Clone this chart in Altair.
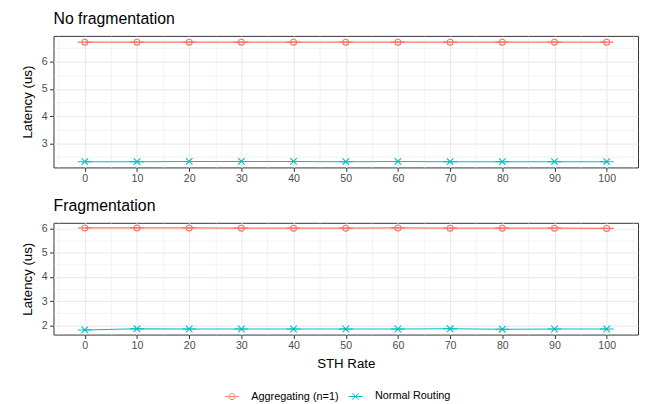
import altair as alt
import pandas as pd

# ---- data ----
rates = [0, 10, 20, 30, 40, 50, 60, 70, 80, 90, 100]
series_names = ["Aggregating (n=1)", "Normal Routing"]

nofrag_agg = [6.72, 6.72, 6.72, 6.72, 6.72, 6.72, 6.72, 6.72, 6.72, 6.72, 6.72]
nofrag_norm = [2.32, 2.32, 2.33, 2.33, 2.33, 2.32, 2.33, 2.32, 2.32, 2.32, 2.32]
frag_agg = [6.02, 6.02, 6.02, 6.01, 6.01, 6.01, 6.02, 6.01, 6.01, 6.01, 6.00]
frag_norm = [1.81, 1.86, 1.85, 1.85, 1.85, 1.85, 1.85, 1.86, 1.84, 1.85, 1.85]

panel_titles = ["No fragmentation", "Fragmentation"]
x_title = "STH Rate"
y_title = "Latency (us)"

FONT = "Liberation Sans"
colors = ["#F8766D", "#00BFC4"]
# marker + legend key line (the short horizontal line overlaps the series line)
shapes = [
    "M-2.35,0L2.35,0M1,0A1,1,0,1,1,-1,0A1,1,0,1,1,1,0",
    "M-2.35,0L2.35,0M-1.1,-1.1L1.1,1.1M-1.1,1.1L1.1,-1.1",
]


def make_df(agg, norm):
    rows = []
    for r, v in zip(rates, agg):
        rows.append({"rate": r, "latency": v, "series": series_names[0]})
    for r, v in zip(rates, norm):
        rows.append({"rate": r, "latency": v, "series": series_names[1]})
    return pd.DataFrame(rows)


legend = alt.Legend(
    title=None, orient="none", direction="horizontal",
    legendX=175, legendY=359,
    symbolSize=36, symbolStrokeWidth=1, labelFont=FONT, labelFontSize=11,
    labelColor="black", labelOffset=14, columnPadding=7,
)

GRID = "#EBEBEB"


def panel(df, title, ydom, yvals, show_x_title, height):
    x = alt.X(
        "rate:Q",
        scale=alt.Scale(domain=[-6, 106], nice=False, zero=False),
        axis=alt.Axis(
            values=list(range(-5, 106, 5)),
            labelExpr="datum.value % 10 === 0 ? datum.label : ''",
            labelOverlap=False, labelFlush=False,
            tickOpacity={"condition": {"test": "datum.value % 10 !== 0", "value": 0}, "value": 1},
            gridWidth={"condition": {"test": "datum.value % 10 !== 0", "value": 0.6}, "value": 1.2},
            title=x_title if show_x_title else None,
        ),
    )
    y = alt.Y(
        "latency:Q",
        scale=alt.Scale(domain=ydom, nice=False, zero=False),
        axis=alt.Axis(
            values=yvals,
            format=".0f",
            labelExpr="datum.value % 1 === 0 ? datum.label : ''",
            labelOverlap=False, labelFlush=False,
            tickOpacity={"condition": {"test": "datum.value % 1 !== 0", "value": 0}, "value": 1},
            gridWidth={"condition": {"test": "datum.value % 1 !== 0", "value": 0.6}, "value": 1.2},
            title=y_title,
        ),
    )
    color = alt.Color("series:N", scale=alt.Scale(domain=series_names, range=colors), legend=legend)
    shape = alt.Shape("series:N", scale=alt.Scale(domain=series_names, range=shapes), legend=legend)
    base = alt.Chart(df)
    line = base.mark_line(strokeWidth=1.1).encode(x=x, y=y, color=color)
    pts = base.mark_point(filled=False, size=36, strokeWidth=1.1, opacity=1).encode(
        x=x, y=y, color=color, shape=shape
    )
    return alt.layer(line, pts).properties(
        width=591, height=height,
        title=alt.TitleParams(title, anchor="start", frame="group", fontSize=16, font=FONT,
                              fontWeight="normal", color="black", offset=9),
    )


p1 = panel(make_df(nofrag_agg, nofrag_norm), panel_titles[0], [2.11, 6.95],
           [2.5, 3, 3.5, 4, 4.5, 5, 5.5, 6, 6.5], False, 133)
p2 = panel(make_df(frag_agg, frag_norm), panel_titles[1], [1.62, 6.23],
           [2, 2.5, 3, 3.5, 4, 4.5, 5, 5.5, 6], True, 113)

chart = (
    alt.vconcat(p1, p2, spacing=13)
    .resolve_scale(color="shared", shape="shared", x="independent", y="independent")
    .properties(padding={"left": 12, "top": 0, "right": 0, "bottom": 0}, background="white")
    .configure_view(stroke="#333333", strokeWidth=1)
    .configure_axis(
        labelFont=FONT, labelFontSize=10.7, labelColor="#4D4D4D", labelPadding=2.5,
        titleFont=FONT, titleFontSize=13.4, titleColor="black", titleFontWeight="normal",
        tickColor="#333333", tickSize=4, tickWidth=1,
        gridColor=GRID, domain=False,
    )
    .configure_axisY(titlePadding=7)
    .configure_axisX(titlePadding=6)
)

chart.save("out.html", embed_options={"renderer": "svg", "actions": False})
